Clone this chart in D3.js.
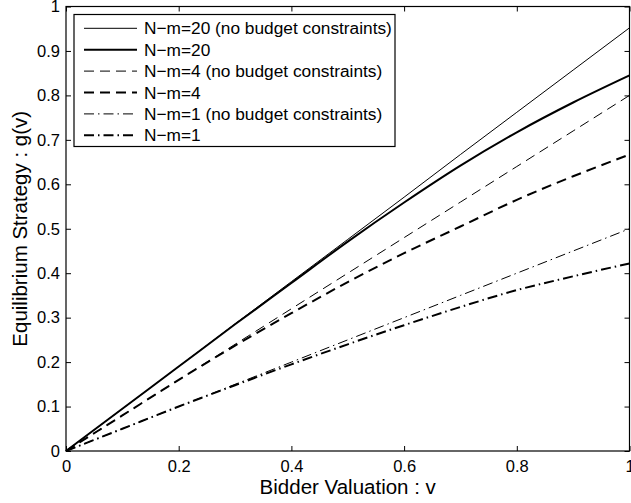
<!DOCTYPE html>
<html>
<head>
<meta charset="utf-8">
<script src="https://cdn.jsdelivr.net/npm/d3@7"></script>
<style>
  html, body { margin: 0; padding: 0; background: #fff; }
  svg text { font-family: "Liberation Sans", Arial, Helvetica, sans-serif; fill: #000; }
</style>
</head>
<body>
<svg id="chart" width="631" height="503"></svg>
<script>
/* ---------------- DATA ---------------- */
const valuations = [0, 0.1, 0.2, 0.3, 0.4, 0.5, 0.6, 0.7, 0.8, 0.9, 1.0];

const nm20Free   = [0, 0.095, 0.19, 0.286, 0.381, 0.476, 0.571, 0.667, 0.762, 0.857, 0.952];
const nm20Budget = [0, 0.095, 0.19, 0.285, 0.378, 0.471, 0.559, 0.642, 0.717, 0.784, 0.845];
const nm4Free    = [0, 0.08, 0.16, 0.24, 0.32, 0.4, 0.48, 0.56, 0.64, 0.72, 0.8];
const nm4Budget  = [0, 0.08, 0.16, 0.237, 0.31, 0.38, 0.445, 0.505, 0.565, 0.618, 0.667];
const nm1Free    = [0, 0.05, 0.1, 0.15, 0.2, 0.25, 0.3, 0.35, 0.4, 0.45, 0.5];
const nm1Budget  = [0, 0.05, 0.1, 0.148, 0.195, 0.24, 0.283, 0.324, 0.362, 0.393, 0.422];

const seriesNames = [
  "N\u2212m=20 (no budget constraints)",
  "N\u2212m=20",
  "N\u2212m=4 (no budget constraints)",
  "N\u2212m=4",
  "N\u2212m=1 (no budget constraints)",
  "N\u2212m=1"
];
const seriesValues = [nm20Free, nm20Budget, nm4Free, nm4Budget, nm1Free, nm1Budget];

const xTicks = [0, 0.2, 0.4, 0.6, 0.8, 1];
const yTicks = [0, 0.1, 0.2, 0.3, 0.4, 0.5, 0.6, 0.7, 0.8, 0.9, 1];

/* line styles: thin/thick, solid / dashed / dash-dot */
const styles = [
  { w: 1,   dash: null },
  { w: 2,   dash: null },
  { w: 1,   dash: "10,6" },
  { w: 2,   dash: "10,6" },
  { w: 1,   dash: "10,4,1.5,4" },
  { w: 2,   dash: "10,4,1.5,4" }
];

/* ---------------- SVG SETUP ---------------- */
const svg = d3.select("#chart");
const plot = { left: 66, right: 629.5, top: 6.5, bottom: 451 };

const x = d3.scaleLinear().domain([0, 1]).range([plot.left, plot.right]);
const y = d3.scaleLinear().domain([0, 1]).range([plot.bottom, plot.top]);

/* ---------------- AXES (MATLAB style, ticks inside) ---------------- */
const tickLen = 5;
const axisFont = "16.5px";

svg.append("g")
  .attr("transform", `translate(0,${plot.bottom})`)
  .call(d3.axisBottom(x).tickValues(xTicks).tickSizeInner(-tickLen).tickSizeOuter(0)
    .tickPadding(9).tickFormat(d3.format("~g")))
  .call(g => g.select(".domain").remove())
  .call(g => g.selectAll("text").style("font-size", axisFont));

svg.append("g")
  .attr("transform", `translate(0,${plot.top})`)
  .call(d3.axisTop(x).tickValues(xTicks).tickSizeInner(-tickLen).tickSizeOuter(0).tickFormat(""))
  .call(g => g.select(".domain").remove());

svg.append("g")
  .attr("transform", `translate(${plot.left},0)`)
  .call(d3.axisLeft(y).tickValues(yTicks).tickSizeInner(-tickLen).tickSizeOuter(0)
    .tickPadding(6).tickFormat(d3.format("~g")))
  .call(g => g.select(".domain").remove())
  .call(g => g.selectAll("text").style("font-size", axisFont));

svg.append("g")
  .attr("transform", `translate(${plot.right},0)`)
  .call(d3.axisRight(y).tickValues(yTicks).tickSizeInner(-tickLen).tickSizeOuter(0).tickFormat(""))
  .call(g => g.select(".domain").remove());

/* frame */
svg.append("rect")
  .attr("x", plot.left).attr("y", plot.top)
  .attr("width", plot.right - plot.left).attr("height", plot.bottom - plot.top)
  .attr("fill", "none").attr("stroke", "#000").attr("stroke-width", 1.2);

/* ---------------- LINES ---------------- */
const line = d3.line()
  .x((d, i) => x(valuations[i]))
  .y(d => y(d))
  .curve(d3.curveMonotoneX);

svg.selectAll(".series")
  .data(seriesValues)
  .enter()
  .append("path")
  .attr("class", "series")
  .attr("d", d => line(d))
  .attr("fill", "none")
  .attr("stroke", "#000")
  .attr("stroke-width", (d, i) => styles[i].w)
  .attr("stroke-dasharray", (d, i) => styles[i].dash);

/* ---------------- AXIS TITLES ---------------- */
svg.append("text")
  .attr("x", (plot.left + plot.right) / 2)
  .attr("y", 494)
  .attr("text-anchor", "middle")
  .style("font-size", "20.5px")
  .text("Bidder Valuation : v");

svg.append("text")
  .attr("transform", `translate(27,${(plot.top + plot.bottom) / 2}) rotate(-90)`)
  .attr("text-anchor", "middle")
  .style("font-size", "20.5px")
  .text("Equilibrium Strategy : g(v)");

/* ---------------- LEGEND ---------------- */
const legend = svg.append("g");
legend.append("rect")
  .attr("x", 74).attr("y", 14.5)
  .attr("width", 321).attr("height", 132)
  .attr("fill", "#fff").attr("stroke", "#000").attr("stroke-width", 1.2);

const rowY = d3.scaleLinear().domain([0, 5]).range([28.3, 135.3]);

const items = legend.selectAll(".item")
  .data(seriesNames)
  .enter()
  .append("g")
  .attr("class", "item")
  .attr("transform", (d, i) => `translate(0,${rowY(i)})`);

items.append("line")
  .attr("x1", 84).attr("x2", 137)
  .attr("stroke", "#000")
  .attr("stroke-width", (d, i) => styles[i].w)
  .attr("stroke-dasharray", (d, i) => styles[i].dash);

items.append("text")
  .attr("x", 144)
  .attr("dy", "0.35em")
  .style("font-size", "17.3px")
  .text(d => d);
</script>
</body>
</html>
